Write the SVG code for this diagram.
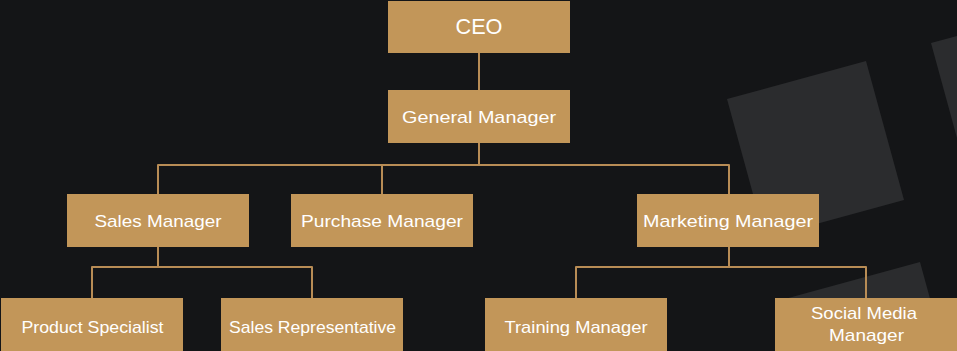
<svg xmlns="http://www.w3.org/2000/svg" width="957" height="351" viewBox="0 0 957 351">
<style>
.box{fill:#c29659}
.t{fill:#ffffff;font-family:"Liberation Sans",Arial,sans-serif;font-size:17px;text-anchor:middle}
.big{font-size:22px}
.c{fill:none;stroke:#b88c55;stroke-width:2;stroke-linejoin:round}
.sq{fill:#2b2c2e}
</style>
<rect width="957" height="351" fill="#141517"/>
<g id="decor">
<polygon class="sq" points="727,99 866,61 904,200 765,238"/>
<polygon class="sq" points="931,43 1070,5 1108,144 969,182"/>
<polygon class="sq" points="781,300 920,262 958,401 819,439"/>
</g>
<g id="connectors">
<line class="c" x1="479" y1="53" x2="479" y2="90"/>
<line class="c" x1="479" y1="143" x2="479" y2="165"/>
<polyline class="c" points="158,194 158,165 729,165 729,194"/>
<line class="c" x1="382" y1="165" x2="382" y2="194"/>
<line class="c" x1="158" y1="247" x2="158" y2="267"/>
<polyline class="c" points="92,298 92,267 312,267 312,298"/>
<line class="c" x1="729" y1="247" x2="729" y2="267"/>
<polyline class="c" points="576,298 576,267 866,267 866,298"/>
</g>
<g id="ceo"><rect class="box" x="388" y="1" width="182" height="52"/><text class="t big" x="479" y="34" textLength="47" lengthAdjust="spacingAndGlyphs">CEO</text></g>
<g id="gm"><rect class="box" x="388" y="90" width="182" height="53"/><text class="t" x="479" y="122.5" textLength="154" lengthAdjust="spacingAndGlyphs">General Manager</text></g>
<g id="sales"><rect class="box" x="67" y="194" width="182" height="53"/><text class="t" x="158" y="227" textLength="127" lengthAdjust="spacingAndGlyphs">Sales Manager</text></g>
<g id="purchase"><rect class="box" x="291" y="194" width="182" height="53"/><text class="t" x="382" y="227" textLength="162" lengthAdjust="spacingAndGlyphs">Purchase Manager</text></g>
<g id="marketing"><rect class="box" x="637" y="194" width="182" height="53"/><text class="t" x="728" y="227" textLength="170" lengthAdjust="spacingAndGlyphs">Marketing Manager</text></g>
<g id="product"><rect class="box" x="1" y="298" width="182" height="56"/><text class="t" x="92.5" y="332.5" textLength="142" lengthAdjust="spacingAndGlyphs">Product Specialist</text></g>
<g id="salesrep"><rect class="box" x="221" y="298" width="182" height="56"/><text class="t" x="312.5" y="332.5" textLength="167" lengthAdjust="spacingAndGlyphs">Sales Representative</text></g>
<g id="training"><rect class="box" x="485" y="298" width="182" height="56"/><text class="t" x="576" y="332.5" textLength="143" lengthAdjust="spacingAndGlyphs">Training Manager</text></g>
<g id="social"><rect class="box" x="775" y="298" width="182" height="56"/><text class="t" x="864" y="318.5" textLength="106" lengthAdjust="spacingAndGlyphs">Social Media</text><text class="t" x="866.5" y="341" textLength="75" lengthAdjust="spacingAndGlyphs">Manager</text></g>
</svg>
